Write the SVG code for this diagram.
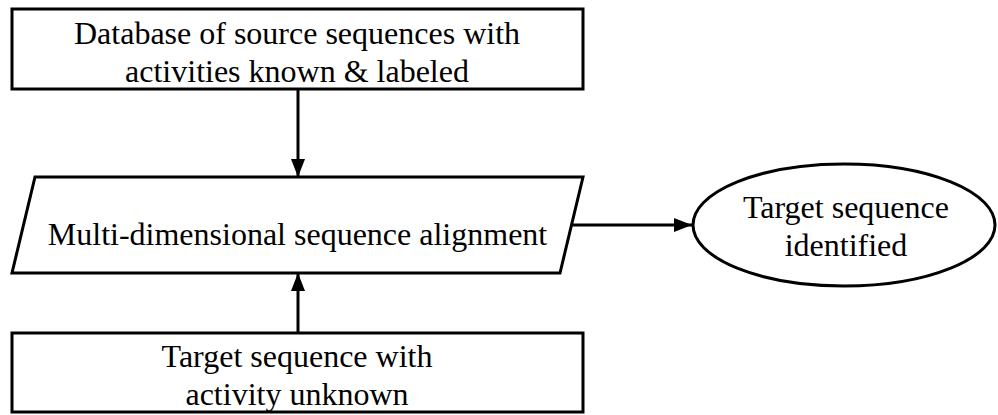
<svg xmlns="http://www.w3.org/2000/svg" width="998" height="415" viewBox="0 0 998 415">
  <style>
    .shape { fill: #ffffff; stroke: #000000; stroke-width: 3; }
    .label { font-family: 'Liberation Serif', 'Times New Roman', 'DejaVu Serif', serif; font-size: 32px; fill: #000000; text-anchor: middle; }
    .edge { fill: none; stroke: #000000; stroke-width: 3; }
  </style>
  <defs>
    <marker id="arrow" markerUnits="userSpaceOnUse" markerWidth="18" markerHeight="14" refX="18" refY="7" orient="auto">
      <path d="M0,0 L18,7 L0,14 Z" fill="#000000"/>
    </marker>
  </defs>
  <rect width="998" height="415" fill="#ffffff"/>

  <g id="edges">
    <line class="edge" x1="298" y1="89" x2="298" y2="177" marker-end="url(#arrow)"/>
    <line class="edge" x1="298" y1="333" x2="298" y2="273" marker-end="url(#arrow)"/>
    <line class="edge" x1="571" y1="225" x2="692" y2="225" marker-end="url(#arrow)"/>
  </g>

  <g id="source-database">
    <rect class="shape" x="12" y="9" width="571" height="80"/>
    <text class="label" font-family="Liberation Serif, serif" x="297" y="44">Database of source sequences with</text>
    <text class="label" font-family="Liberation Serif, serif" x="297" y="82">activities known &amp; labeled</text>
  </g>

  <g id="alignment">
    <polygon class="shape" points="35,177 583,177 560,273 12,273"/>
    <text class="label" font-family="Liberation Serif, serif" x="297.5" y="245">Multi-dimensional sequence alignment</text>
  </g>

  <g id="target-unknown">
    <rect class="shape" x="12" y="333" width="571" height="79"/>
    <text class="label" font-family="Liberation Serif, serif" x="297" y="367">Target sequence with</text>
    <text class="label" font-family="Liberation Serif, serif" x="297" y="405">activity unknown</text>
  </g>

  <g id="target-identified">
    <ellipse class="shape" cx="844" cy="225" rx="151" ry="61"/>
    <text class="label" font-family="Liberation Serif, serif" x="846" y="218">Target sequence</text>
    <text class="label" font-family="Liberation Serif, serif" x="846" y="256">identified</text>
  </g>
</svg>
